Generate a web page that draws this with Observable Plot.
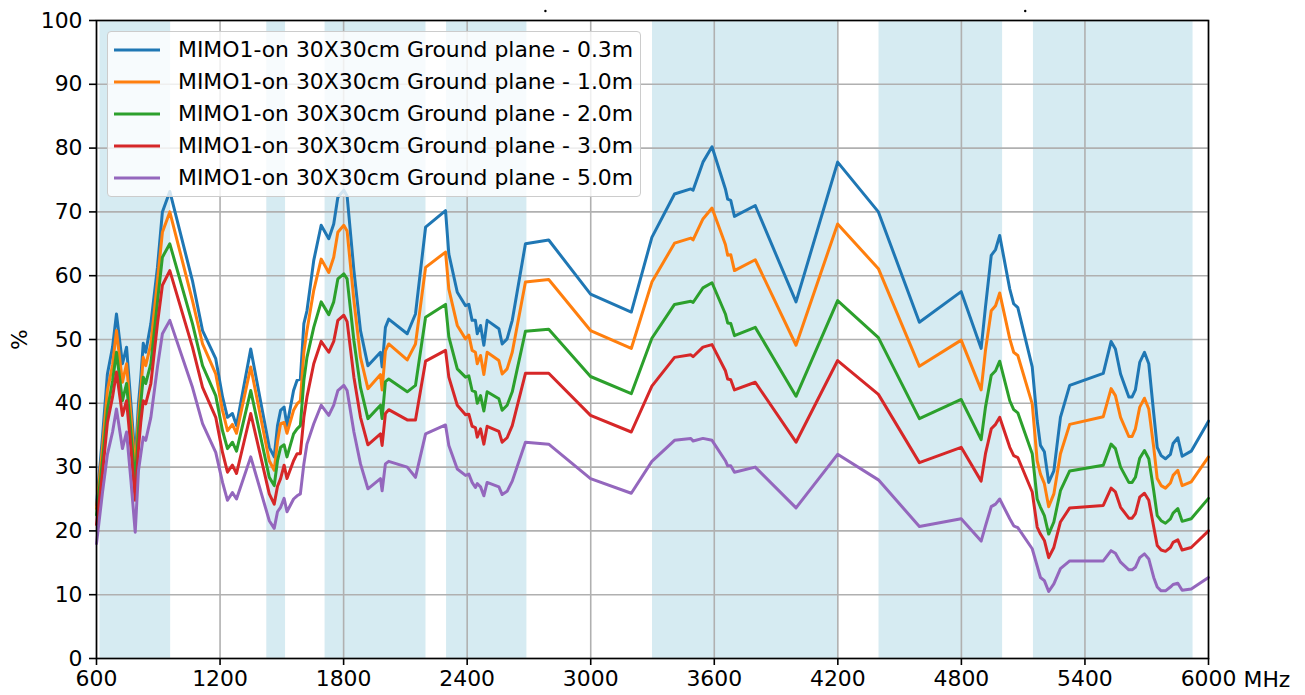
<!DOCTYPE html>
<html>
<head>
<meta charset="utf-8">
<script src="https://cdn.jsdelivr.net/npm/d3@7"></script>
<script src="https://cdn.jsdelivr.net/npm/@observablehq/plot@0.6"></script>
<style>
  html, body { margin: 0; padding: 0; background: #fff; }
  #wrap { position: relative; width: 1305px; height: 695px; font-family: "DejaVu Sans", sans-serif; }
  #legend { position: absolute; left: 107px; top: 31px; width: 534px; height: 166px;
    border: 1.2px solid #cccccc; border-radius: 4px; background: rgba(255,255,255,0.8); box-sizing: border-box; }
  .lrow { position: absolute; left: 0; height: 32px; width: 100%; }
  .lrow svg { position: absolute; left: 6px; top: 0; }
  .lrow span { position: absolute; left: 70px; top: 0; line-height: 32px; font-size: 21.9px; color: #000; white-space: nowrap; }
</style>
</head>
<body>
<div id="wrap"></div>
<script>
// Frequencies (MHz) shared by all series
const freq = [600,629,653,678,697,726,746,767,788,804,815,827,839,864,896,920,956,1066,1115,1179,1212,1236,1260,1280,1349,1439,1463,1479,1494,1511,1525,1557,1574,1590,1607,1622,1655,1691,1728,1752,1772,1801,1817,1850,1882,1918,1979,1987,2003,2019,2109,2149,2198,2295,2311,2352,2392,2408,2424,2440,2449,2465,2481,2497,2554,2570,2594,2619,2683,2796,2999,3197,3297,3407,3486,3497,3545,3589,3654,3665,3680,3698,3799,3997,4199,4397,4596,4799,4896,4917,4945,4966,4986,5035,5054,5074,5144,5168,5184,5203,5224,5249,5281,5326,5489,5527,5548,5573,5613,5629,5645,5666,5689,5710,5734,5751,5770,5791,5815,5828,5851,5872,5916,6000];

const s03 = [24,34.7,44.6,48.8,54.0,46.2,48.8,40,31,40,44,49.4,48.0,52.5,61.3,70.0,73.2,59.2,51.4,47.0,41,37.8,38.4,36.5,48.5,33.1,31.6,36.5,38.9,39.4,36.5,42,43.6,43.8,52.5,54.5,62.4,67.9,65.8,68.1,72.3,73.4,72.5,60.8,51.4,45.9,48.0,45.7,51.9,53.2,50.9,54.0,67.6,70.2,63.4,57.4,55.3,55.5,53.0,53.0,50.9,52.2,49.1,53.0,51.7,49.3,50.1,53.0,65.0,65.6,57.1,54.3,66.0,72.8,73.6,73.4,77.8,80.2,73.6,72.0,71.8,69.3,71.0,55.9,77.8,70.0,52.7,57.5,48.6,55.1,63.2,64.1,66.3,57.9,55.6,55.0,45.7,37.3,33.4,32.4,27.6,29.4,37.8,42.8,44.7,49.7,48.5,44.6,41.0,41.0,42.1,46.4,48.0,46.2,38.4,33.1,31.8,31.3,32.0,33.7,34.6,31.7,32.5,37.2];

const s10 = [23.5,33,42,46,51.4,43.3,46.2,38,29.5,38,42,47.2,45.9,49.3,59.2,66.8,70.0,56.1,49.3,44.6,38.9,35.7,36.7,35.3,45.7,31.0,29.5,34,36.8,37,35.3,38.9,39.9,40.4,48.0,51.4,57.7,62.6,60.5,62.9,66.8,67.9,67,56.1,47.2,42.3,44.5,42.1,48.2,49.3,46.8,49.3,61.3,63.7,57.9,52.2,50.1,50.7,48.3,48.0,46.2,47.5,44.5,48.0,46.7,44.6,45.4,48.0,59.0,59.4,51.4,48.6,59.0,65.1,65.9,65.6,68.9,70.6,64.9,63.2,63.3,60.8,62.5,49.1,68.1,61.1,45.8,49.9,42.1,48.3,54.5,55.3,57.3,50.1,48.0,47.5,39.9,31.0,28.9,27.4,23.8,25.8,32.1,36.7,37.9,42.3,41.2,37.8,34.8,34.8,36.0,39.4,40.8,39.1,33.1,28.2,27.1,26.7,27.5,28.7,29.5,27.1,27.7,31.6];

const s20 = [22.5,31,39,43.5,48.0,40.4,43.1,35.5,27.5,36,40,44.1,43.1,46.2,55.9,62.9,65.0,52.5,45.9,41.2,35.7,32.9,33.9,32.5,42.0,28.4,27.1,31,33.1,33.5,31.6,35.2,36.0,36.5,43.6,47.2,51.9,55.9,53.9,55.9,59.5,60.3,59.5,49.8,42.5,37.6,39.7,37.6,43.4,43.8,41.8,42.8,53.5,55.5,50.4,45.4,44.1,44.3,42.0,41.8,40.0,41.2,38.8,41.8,40.7,38.9,39.7,41.8,51.3,51.6,44.2,41.5,50.2,55.5,56.0,55.8,58.1,58.9,54.0,52.6,52.5,50.6,51.9,41.1,56.1,50.3,37.6,40.6,34.3,39.4,44.4,45.1,46.6,40.4,39.0,38.5,32.1,25.0,23.7,22.4,19.5,21.4,26.3,29.4,30.3,33.6,32.9,30.0,27.6,27.6,28.4,31.4,32.6,31.3,26.3,22.4,21.6,21.2,21.9,22.8,23.5,21.5,21.9,25.1];

const s30 = [21,29,37,41,44.9,38.1,40.4,33,24.8,33,37,40.4,39.9,43.1,52.5,58.5,60.8,48.8,42.5,37.8,32.3,29.2,30.3,29,38.4,25.8,24.2,27,28.2,30.3,28.2,31.0,32.1,32.1,37.8,41.0,46.2,49.7,48.0,49.7,53.0,53.8,52.8,44.1,37.8,33.5,35.2,33.4,38.4,39.0,37.4,37.4,46.6,48.3,44.1,39.7,38.2,38.3,36.4,36.2,34.7,36.0,33.6,36.4,35.6,33.9,34.6,36.5,44.7,44.7,38.1,35.5,42.7,47.2,47.6,47.3,48.8,49.2,45.1,43.8,43.7,42.1,43.3,33.9,46.7,41.4,30.7,33.1,27.8,32.1,36.0,36.7,37.8,33.1,31.8,31.5,26.1,20.6,19.5,18.5,15.8,17.4,21.4,23.6,24.0,26.7,26.1,23.7,22.0,22.0,22.7,25.3,25.9,24.8,20.6,17.7,17.0,16.8,17.4,18.2,18.6,17.0,17.4,20.0];

const s50 = [18,26,32,35.5,39.1,32.9,35.5,28,19.8,29.5,32,34.7,34.2,37.8,45.7,50.9,53.0,42.5,36.8,32.3,27.6,24.8,26.0,25,31.6,21.6,20.4,23,23.7,25.1,23.0,25.0,25.5,25.8,30.5,33.6,36.8,39.7,38.1,39.7,42.0,42.8,42,35.5,30.5,26.6,28.2,26.3,30.5,30.9,30.0,28.4,35.2,36.6,33.4,29.7,28.7,28.9,27.6,26.8,27.4,26.9,25.5,27.6,26.9,25.7,26.2,27.8,33.9,33.6,28.2,25.9,30.9,34.2,34.5,34.1,34.5,34.2,31.0,30.2,30.2,29.2,30.0,23.6,32.0,28.0,20.7,21.9,18.4,20.8,23.8,24.2,25.0,21.9,20.8,20.5,17.2,14.5,12.7,12.2,10.5,11.7,14.1,15.3,15.3,16.9,16.5,15.1,13.9,13.9,14.3,15.8,16.4,15.6,12.7,11.2,10.6,10.6,11.2,11.6,11.8,10.7,10.9,12.7];

const seriesNames = [
  "MIMO1-on 30X30cm Ground plane - 0.3m",
  "MIMO1-on 30X30cm Ground plane - 1.0m",
  "MIMO1-on 30X30cm Ground plane - 2.0m",
  "MIMO1-on 30X30cm Ground plane - 3.0m",
  "MIMO1-on 30X30cm Ground plane - 5.0m"
];
const seriesColors = ["#1f77b4", "#ff7f0e", "#2ca02c", "#d62728", "#9467bd"];

// Shaded frequency bands (MHz)
const bandStart = [617, 1427, 1710, 2300, 3300, 4400, 5150];
const bandEnd   = [960, 1518, 2200, 2690, 4200, 5000, 5925];

const xTicks = [600, 1200, 1800, 2400, 3000, 3600, 4200, 4800, 5400, 6000];
const yTicks = [0, 10, 20, 30, 40, 50, 60, 70, 80, 90, 100];
const topDots = [2780, 5110];

const allSeries = [s03, s10, s20, s30, s50];
const rows = [];
allSeries.forEach((vals, k) => {
  vals.forEach((v, i) => rows.push({ freq: freq[i], value: v, series: seriesNames[k] }));
});
const bands = bandStart.map((s, i) => ({ start: s, end: bandEnd[i] }));

const chart = Plot.plot({
  width: 1305,
  height: 695,
  marginLeft: 96,
  marginRight: 97,
  marginTop: 20,
  marginBottom: 37,
  style: { fontFamily: "DejaVu Sans", fontSize: "21.9px", background: "transparent", overflow: "visible" },
  x: { domain: [600, 6000] },
  y: { domain: [0, 100] },
  color: { domain: seriesNames, range: seriesColors },
  marks: [
    Plot.rect(bands, { x1: "start", x2: "end", y1: 0, y2: 100, fill: "#add8e6", fillOpacity: 0.5 }),
    Plot.gridX(xTicks, { stroke: "#b0b0b0", strokeOpacity: 1, strokeWidth: 1.6 }),
    Plot.gridY(yTicks, { stroke: "#b0b0b0", strokeOpacity: 1, strokeWidth: 1.6 }),
    Plot.line(rows, { x: "freq", y: "value", z: "series", stroke: "series", strokeWidth: 3, strokeLinejoin: "round" }),
    Plot.frame({ stroke: "#000", strokeWidth: 1.6 }),
    Plot.axisX(xTicks, { tickSize: 7, tickPadding: 5, strokeWidth: 1.6, fill: "#000", label: null, tickFormat: d => String(d) }),
    Plot.axisY(yTicks, { tickSize: 7, tickPadding: 7, strokeWidth: 1.6, fill: "#000", label: "%", labelAnchor: "center", labelArrow: "none", labelOffset: 85, tickFormat: d => String(d) }),
    Plot.text(["MHz"], { x: 6000, y: 0, text: d => d, dx: 35, dy: 21, textAnchor: "start", fill: "#000", fontSize: 21.9 }),
    Plot.dot(topDots, { x: d => d, y: 101.5, r: 1.2, fill: "#000", stroke: null })
  ]
});

const wrap = document.getElementById("wrap");
wrap.appendChild(chart);

// Legend drawn inside the plot area (upper left)
const legend = document.createElement("div");
legend.id = "legend";
seriesNames.forEach((name, k) => {
  const row = document.createElement("div");
  row.className = "lrow";
  row.style.top = (2 + k * 32) + "px";
  row.innerHTML = `<svg width="48" height="32"><line x1="0" x2="46" y1="16" y2="16" stroke="${seriesColors[k]}" stroke-width="3"/></svg><span>${name}</span>`;
  legend.appendChild(row);
});
wrap.appendChild(legend);
</script>
</body>
</html>
